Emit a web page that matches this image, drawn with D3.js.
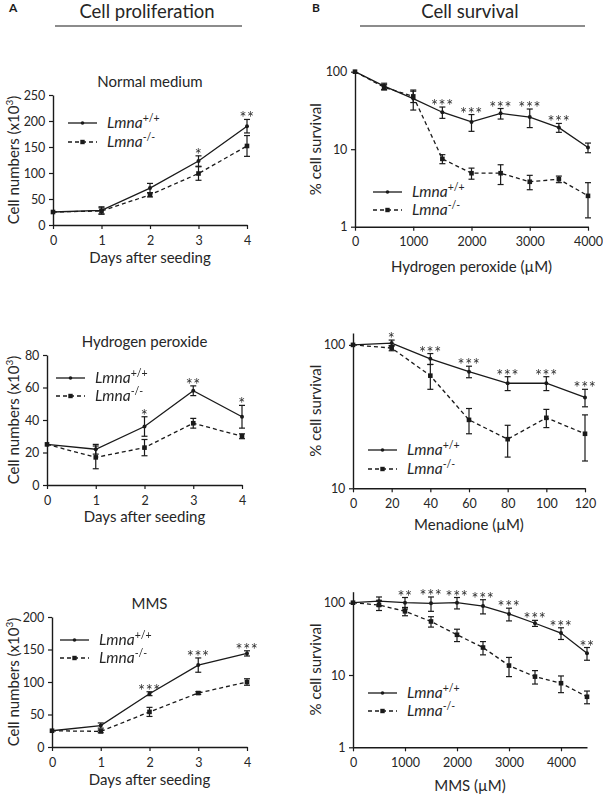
<!DOCTYPE html>
<html><head><meta charset="utf-8">
<script src="https://cdn.jsdelivr.net/npm/d3@7"></script>
<style>
body{margin:0;background:#fff;}
svg{display:block;font-family:Lato,"Open Sans",sans-serif;}
.stars{opacity:0.99;will-change:transform;}
</style></head>
<body><svg id="c" width="603" height="794"></svg>
<script>
// ---- data ----
const days = [0,1,2,3,4];
const normalWT = [25,28,71,123,190];
const normalWTerr = [0,7,9,10,13];
const normalKO = [25,27,58,99,152];
const normalKOerr = [0,6,4,13,20];
const normalStars = ["","","","*","**"];

const h2o2WT = [25,22,36,58,42];
const h2o2WTerr = [0,3,6,3,7];
const h2o2KO = [25,17,23,38,30];
const h2o2KOerr = [0,7,5,3,1.5];
const h2o2Stars = ["","","*","**","*"];

const mmsWT = [25,33,82,126,144];
const mmsWTerr = [0,4,3,11,4];
const mmsKO = [25,24,54,83,100];
const mmsKOerr = [0,2,7,2,5];
const mmsStars = ["","","***","***","***"];

const h2o2Dose = [0,500,1000,1500,2000,2500,3000,3500,4000];
const survH2o2WT = [100,65,45,30,22.5,29,26,19,10.5];
const survH2o2WTerr = [0,6,13,5,5.5,4.5,7,2.5,1.5];
const survH2o2KO = [100,63,48,7.5,4.9,4.9,3.8,4.1,2.5];
const survH2o2KOerr = [0,5,8,1,0.8,1.4,0.8,0.4,1.2];
const survH2o2Stars = ["","","","***","***","***","***","***",""];

const menDose = [0,20,40,60,80,100,120];
const survMenWT = [100,103,80,65,54,54,43];
const survMenWTerr = [0,5,7,6,6,6,6];
const survMenKO = [100,95,61,30,22,31,24];
const survMenKOerr = [0,4,12,6,5.5,4.5,8.5];
const survMenStars = ["","*","***","***","***","***","***"];

const mmsDose = [0,500,1000,1500,2000,2500,3000,3500,4000,4500];
const survMmsWT = [100,105,100,98,100,90,70,52,38,20];
const survMmsWTerr = [0,15,18,22,18,20,14,5,7,4];
const survMmsKO = [100,93,76,55,36,24,13.5,9.5,7.7,5];
const survMmsKOerr = [0,15,10,9,7,5,4,2,2,1];
const survMmsStars = ["","","**","***","***","***","***","***","***","**"];

const yTicksNormal = [0,50,100,150,200,250];
const yTicksH2o2 = [0,20,40,60,80];
const yTicksMms = [0,50,100,150,200];
const xTicksH2o2 = [0,1000,2000,3000,4000];
const xTicksMen = [0,20,40,60,80,100,120];
const xTicksMms = [0,1000,2000,3000,4000];
const logTicks3 = [1,10,100];
const logTicks2 = [10,100];

// ---- drawing ----
const svg = d3.select("#c");
const ink = "#1a1a1a";
const txt = "#262626";

function legend(g, lx, ly, gap){
  const items = [{dash:null, sq:false, sup:"+/+"},{dash:"4,3", sq:true, sup:"-/-"}];
  items.forEach((it,i)=>{
    const y = ly + i*gap;
    g.append("line").attr("x1",lx).attr("x2",lx+29).attr("y1",y).attr("y2",y)
      .attr("stroke",ink).attr("stroke-width",1.3).attr("stroke-dasharray",it.dash);
    if(it.sq) g.append("rect").attr("x",lx+14.5-2.2).attr("y",y-2.2).attr("width",4.4).attr("height",4.4).attr("fill",ink);
    else g.append("circle").attr("cx",lx+14.5).attr("cy",y).attr("r",1.8).attr("fill",ink);
    const t = g.append("text").attr("x",lx+39).attr("y",y+5).attr("font-size",15.5).attr("fill",txt);
    t.append("tspan").attr("font-style","italic").text("Lmna");
    t.append("tspan").attr("font-size",10.5).attr("dy",-6).text(it.sup);
  });
}

function panel(cfg){
  const g = svg.append("g");
  const x = d3.scaleLinear().domain(cfg.xDomain).range([cfg.x0,cfg.x1]);
  const y = (cfg.log ? d3.scaleLog() : d3.scaleLinear()).domain(cfg.yDomain).range([cfg.y1,cfg.y0]);
  const xa = g.append("g").attr("transform",`translate(0,${cfg.y1})`)
    .call(d3.axisBottom(x).tickValues(cfg.xTicks).tickSize(4).tickSizeOuter(0).tickFormat(d3.format("d")));
  const ya = g.append("g").attr("transform",`translate(${cfg.x0},0)`)
    .call(d3.axisLeft(y).tickValues(cfg.yTicks).tickSize(4).tickSizeOuter(0).tickFormat(d3.format("d")));
  [xa,ya].forEach(a=>{
    a.select(".domain").attr("stroke",ink).attr("stroke-width",1.4);
    a.selectAll(".tick line").attr("stroke",ink).attr("stroke-width",1.2);
    a.selectAll("text").attr("font-size",12.5).attr("fill",txt).attr("font-family","Lato,sans-serif");
  });
  xa.selectAll("text").attr("dy","1.0em");
  ya.selectAll("text").attr("dx","-0.05em");
  if(cfg.title) g.append("text").attr("x",(cfg.x0+cfg.x1)/2).attr("y",cfg.y0-8).attr("text-anchor","middle")
    .attr("font-size",15).attr("fill",txt).text(cfg.title);
  g.append("text").attr("x",(cfg.x0+cfg.x1)/2).attr("y",cfg.y1+cfg.xlabDy).attr("text-anchor","middle")
    .attr("font-size",15).attr("fill",txt).text(cfg.xlab);
  const yl = g.append("text").attr("transform",`translate(${cfg.ylabX},${(cfg.y0+cfg.y1)/2}) rotate(-90)`)
    .attr("text-anchor","middle").attr("font-size",15).attr("fill",txt);
  if(cfg.ylabSup){ yl.append("tspan").text("Cell numbers (x10"); yl.append("tspan").attr("font-size",10).attr("dy",-6).text("3"); yl.append("tspan").attr("dy",6).text(")"); }
  else yl.text(cfg.ylab);

  const series = [
    {vals:cfg.wt, err:cfg.wtErr, dash:null, sq:false},
    {vals:cfg.ko, err:cfg.koErr, dash:"4,3", sq:true}
  ];
  series.forEach(s=>{
    const pts = cfg.xs.map((d,i)=>({x:d, v:s.vals[i], e:s.err[i]}));
    g.append("path").datum(pts).attr("fill","none").attr("stroke",ink).attr("stroke-width",1.3)
      .attr("stroke-dasharray",s.dash)
      .attr("d",d3.line().x(d=>x(d.x)).y(d=>y(d.v)));
    pts.filter(d=>d.e>0).forEach(d=>{
      const lo = Math.max(d.v-d.e, cfg.yDomain[0]), hi = d.v+d.e;
      const cx = x(d.x);
      g.append("line").attr("x1",cx).attr("x2",cx).attr("y1",y(lo)).attr("y2",y(hi)).attr("stroke",ink).attr("stroke-width",1.2);
      [lo,hi].forEach(v=>g.append("line").attr("x1",cx-3).attr("x2",cx+3).attr("y1",y(v)).attr("y2",y(v)).attr("stroke",ink).attr("stroke-width",1.2));
    });
    pts.forEach(d=>{
      if(s.sq) g.append("rect").attr("x",x(d.x)-2.3).attr("y",y(d.v)-2.3).attr("width",4.6).attr("height",4.6).attr("fill",ink);
      else g.append("circle").attr("cx",x(d.x)).attr("cy",y(d.v)).attr("r",2).attr("fill",ink);
    });
  });
  const sg = g.append("g").attr("class","stars");
  cfg.stars.forEach((s,i)=>{
    if(!s) return;
    const top = Math.min(y(cfg.wt[i]+cfg.wtErr[i]), y(cfg.ko[i]+cfg.koErr[i]));
    sg.append("text").attr("x",x(cfg.xs[i])).attr("y",top+5).attr("text-anchor","middle")
      .attr("font-size",16.5).attr("fill","#333").attr("letter-spacing",0.6).text(s);
  });
  legend(g, cfg.legX, cfg.legY, cfg.legGap);
}

// headers
svg.append("text").attr("x",9).attr("y",12).attr("font-size",12).attr("font-weight","bold").attr("fill",ink).text("A");
svg.append("text").attr("x",147).attr("y",18).attr("text-anchor","middle").attr("font-size",18.5).attr("fill",txt).text("Cell proliferation");
svg.append("line").attr("x1",55).attr("x2",242).attr("y1",26).attr("y2",26).attr("stroke",ink).attr("stroke-width",1.2);
svg.append("text").attr("x",312).attr("y",12).attr("font-size",12).attr("font-weight","bold").attr("fill",ink).text("B");
svg.append("text").attr("x",470).attr("y",18).attr("text-anchor","middle").attr("font-size",18.5).attr("fill",txt).text("Cell survival");
svg.append("line").attr("x1",360).attr("x2",585).attr("y1",26).attr("y2",26).attr("stroke",ink).attr("stroke-width",1.2);

panel({x0:53,x1:247,y0:95,y1:225,xDomain:[0,4],yDomain:[0,250],xTicks:days,yTicks:yTicksNormal,
  xs:days,wt:normalWT,wtErr:normalWTerr,ko:normalKO,koErr:normalKOerr,stars:normalStars,
  title:"Normal medium",xlab:"Days after seeding",xlabDy:38,ylabSup:true,ylabX:19,legX:68,legY:123,legGap:19});
panel({x0:47,x1:242,y0:355,y1:485,xDomain:[0,4],yDomain:[0,80],xTicks:days,yTicks:yTicksH2o2,
  xs:days,wt:h2o2WT,wtErr:h2o2WTerr,ko:h2o2KO,koErr:h2o2KOerr,stars:h2o2Stars,
  title:"Hydrogen peroxide",xlab:"Days after seeding",xlabDy:37,ylabSup:true,ylabX:19,legX:56,legY:378,legGap:18});
panel({x0:52,x1:247,y0:617,y1:747,xDomain:[0,4],yDomain:[0,200],xTicks:days,yTicks:yTicksMms,
  xs:days,wt:mmsWT,wtErr:mmsWTerr,ko:mmsKO,koErr:mmsKOerr,stars:mmsStars,
  title:"MMS",xlab:"Days after seeding",xlabDy:38,ylabSup:true,ylabX:19,legX:60,legY:640,legGap:18});

panel({x0:355,x1:588,y0:71.7,y1:226.7,log:true,xDomain:[0,4000],yDomain:[1,100],xTicks:xTicksH2o2,yTicks:logTicks3,
  xs:h2o2Dose,wt:survH2o2WT,wtErr:survH2o2WTerr,ko:survH2o2KO,koErr:survH2o2KOerr,stars:survH2o2Stars,
  title:null,xlab:"Hydrogen peroxide (µM)",xlabDy:45,ylab:"% cell survival",ylabX:321,legX:373,legY:192,legGap:18});
panel({x0:353,x1:585,y0:333,y1:488.3,log:true,xDomain:[0,120],yDomain:[10,121],xTicks:xTicksMen,yTicks:logTicks2,
  xs:menDose,wt:survMenWT,wtErr:survMenWTerr,ko:survMenKO,koErr:survMenKOerr,stars:survMenStars,
  title:null,xlab:"Menadione (µM)",xlabDy:42,ylab:"% cell survival",ylabX:321,legX:368,legY:450,legGap:19});
panel({x0:353,x1:587,y0:591.7,y1:747.3,log:true,xDomain:[0,4500],yDomain:[1,142],xTicks:xTicksMms,yTicks:logTicks3,
  xs:mmsDose,wt:survMmsWT,wtErr:survMmsWTerr,ko:survMmsKO,koErr:survMmsKOerr,stars:survMmsStars,
  title:null,xlab:"MMS (µM)",xlabDy:44,ylab:"% cell survival",ylabX:321,legX:368,legY:693,legGap:18});
</script></body></html>
